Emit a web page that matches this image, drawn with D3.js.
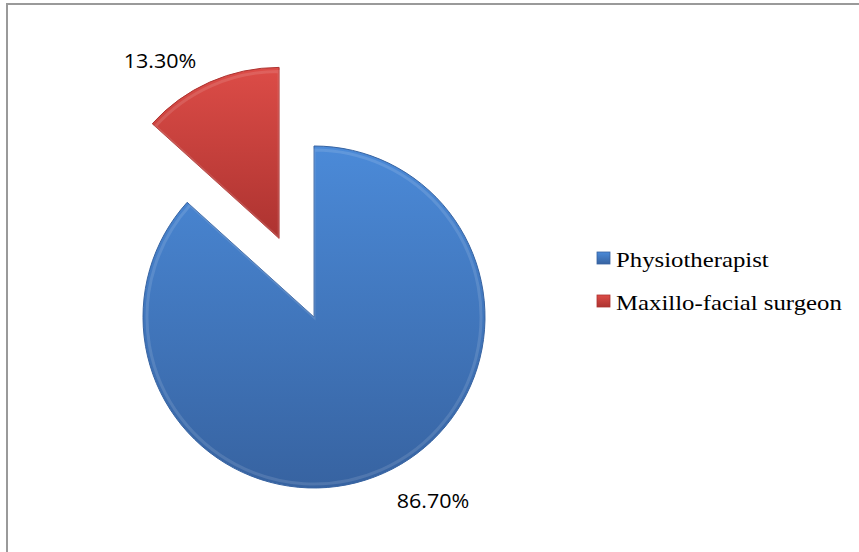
<!DOCTYPE html>
<html>
<head>
<meta charset="utf-8">
<script src="https://cdn.jsdelivr.net/npm/d3@7"></script>
<style>
  body { margin: 0; background: #fff; }
</style>
</head>
<body>
<svg id="chart" width="859" height="552"></svg>
<script>
// data
var categories = ["Physiotherapist", "Maxillo-facial surgeon"],
    values = [86.7, 13.3],
    valueLabels = ["86.70%", "13.30%"],
    exploded = [0, 86];

var colorsTop = ["#4b8ad8", "#dc4c47"],
    colorsBottom = ["#3763a1", "#ad3330"];

var cx = 314, cy = 317, radius = 171;

var svg = d3.select("#chart");

// frame (only the top and left edges fall inside the window)
svg.append("rect")
  .attr("x", 7).attr("y", 4)
  .attr("width", 900).attr("height", 600)
  .attr("fill", "none")
  .attr("stroke", "#9a9a9a")
  .attr("stroke-width", 2);

var defs = svg.append("defs");
categories.forEach(function(c, i){
  var g = defs.append("linearGradient")
    .attr("id", "grad" + i)
    .attr("x1", 0).attr("y1", 0).attr("x2", 0).attr("y2", 1);
  g.append("stop").attr("offset", "0%").attr("stop-color", colorsTop[i]);
  g.append("stop").attr("offset", "100%").attr("stop-color", colorsBottom[i]);
});

var pie = d3.pie().sort(null).value(function(d){ return d; });
var arcs = pie(values);

var arc = d3.arc().innerRadius(0).outerRadius(radius);
var arcInner = d3.arc().innerRadius(0).outerRadius(radius - 4);

var slices = svg.append("g")
  .attr("transform", "translate(" + cx + "," + cy + ")")
  .selectAll(".slice")
  .data(arcs)
  .enter().append("g")
    .attr("class", "slice")
    .attr("transform", function(d, i){
      var mid = (d.startAngle + d.endAngle) / 2;
      return "translate(" + (Math.sin(mid) * exploded[i]) + "," + (-Math.cos(mid) * exploded[i]) + ")";
    });

slices.append("path")
  .attr("d", arc)
  .attr("fill", function(d, i){ return "url(#grad" + i + ")"; })
  .attr("stroke", function(d, i){ return colorsBottom[i]; })
  .attr("stroke-width", 1);

// soft bevel highlight
slices.append("path")
  .attr("d", arcInner)
  .attr("fill", "none")
  .attr("stroke", "#ffffff")
  .attr("stroke-opacity", 0.12)
  .attr("stroke-width", 3);

// value labels (reference text is slightly wide, so stretch a little)
var labelPos = [[433, 508], [160, 68]];
svg.selectAll(".vlabel")
  .data(valueLabels)
  .enter().append("text")
    .attr("class", "vlabel")
    .attr("transform", function(d, i){
      return "translate(" + labelPos[i][0] + "," + labelPos[i][1] + ") scale(1.05,1)";
    })
    .attr("text-anchor", "middle")
    .style("font-family", "'Open Sans', 'Liberation Sans', sans-serif")
    .style("font-size", "20.5px")
    .style("fill", "#000")
    .text(function(d){ return d; });

// legend
var legend = svg.append("g")
  .attr("transform", "translate(597,252)");

var items = legend.selectAll(".item")
  .data(categories)
  .enter().append("g")
    .attr("class", "item")
    .attr("transform", function(d, i){ return "translate(0," + (i * 43) + ")"; });

items.append("rect")
  .attr("width", 13).attr("height", 12)
  .attr("fill", function(d, i){ return "url(#grad" + i + ")"; })
  .attr("stroke", function(d, i){ return colorsBottom[i]; })
  .attr("stroke-width", 0.8);

items.append("text")
  .attr("transform", "translate(19,15) scale(1.18,1)")
  .style("font-family", "'Liberation Serif', 'Times New Roman', serif")
  .style("font-size", "21px")
  .style("fill", "#000")
  .text(function(d){ return d; });
</script>
</body>
</html>
